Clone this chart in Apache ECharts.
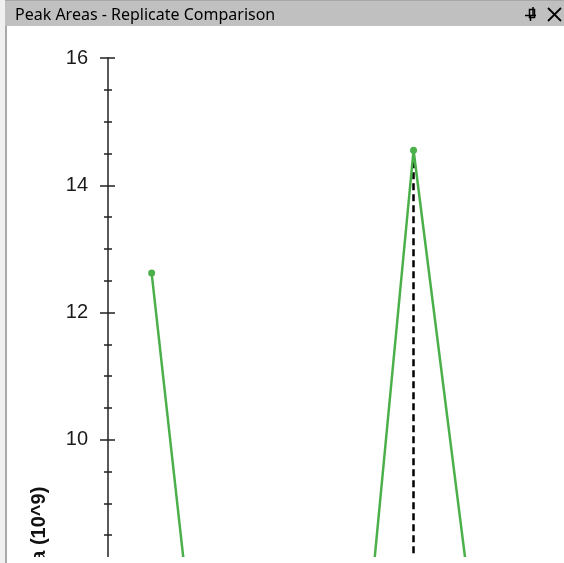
<!DOCTYPE html>
<html>
<head>
<meta charset="utf-8">
<title>Peak Areas - Replicate Comparison</title>
<script src="https://cdn.jsdelivr.net/npm/echarts@6/dist/echarts.min.js"></script>
<style>
  html, body { margin: 0; padding: 0; overflow: hidden; background: #fff; }
  #main { width: 564px; height: 1180px; }
</style>
</head>
<body>
<div id="main"></div>
<script>
// replicate names (x axis, off screen) and peak areas in 10^9
const replicates = ['Rep 1', 'Rep 2', 'Rep 3', 'Rep 4', 'Rep 5'];
const peakAreas = [12.62, 0.28, 0.16, 14.55, 3.7];
const selectedIndex = 3;
const yMin = 0, yMax = 16, yStep = 2;

const chart = echarts.init(document.getElementById('main'));

// same layout for both grids: second one only draws the inner half of the ticks
const gridBox = { left: 108, top: 58, width: 436.5, bottom: 104 };

const option = {
  animation: false,
  title: {
    text: 'Peak Areas - Replicate Comparison',
    left: 10,
    top: 2,
    textStyle: { fontFamily: 'Noto Sans', fontSize: 16, fontWeight: 'normal', color: '#000' }
  },
  grid: [
    Object.assign({}, gridBox),
    Object.assign({}, gridBox)
  ],
  xAxis: [
    {
      type: 'category',
      gridIndex: 0,
      data: replicates,
      axisLine: { lineStyle: { color: '#222', width: 1.5 } },
      axisTick: { show: false },
      axisLabel: { fontFamily: 'Liberation Sans', fontSize: 19, color: '#222' }
    },
    {
      type: 'category',
      gridIndex: 1,
      data: replicates,
      show: false
    }
  ],
  yAxis: [
    {
      type: 'value',
      gridIndex: 0,
      min: yMin,
      max: yMax,
      interval: yStep,
      name: 'Peak Area (10^9)',
      nameLocation: 'middle',
      nameGap: 59,
      nameTextStyle: { fontFamily: 'Liberation Sans', fontSize: 20, fontWeight: 'bold', color: '#111' },
      axisLine: { show: true, lineStyle: { color: '#222', width: 1.5 } },
      axisTick: { show: true, length: 8, lineStyle: { color: '#222', width: 1.5 } },
      minorTick: { show: true, splitNumber: 4, length: 4, lineStyle: { color: '#222', width: 1.5 } },
      axisLabel: { margin: 20, fontFamily: 'Liberation Sans', fontSize: 20, color: '#1a1a1a' },
      splitLine: { show: false }
    },
    {
      type: 'value',
      gridIndex: 1,
      min: yMin,
      max: yMax,
      interval: yStep,
      axisLine: { show: false },
      axisTick: { show: true, inside: true, length: 7, lineStyle: { color: '#222', width: 1.5 } },
      minorTick: { show: true, splitNumber: 4, length: 4, lineStyle: { color: '#222', width: 1.5 } },
      axisLabel: { show: false },
      splitLine: { show: false }
    }
  ],
  series: [
    {
      type: 'line',
      xAxisIndex: 0,
      yAxisIndex: 0,
      data: peakAreas,
      symbol: 'circle',
      symbolSize: 7,
      z: 3,
      lineStyle: { color: '#4cb04a', width: 2.5 },
      itemStyle: { color: '#4cb04a' },
      markLine: {
        silent: true,
        symbol: 'none',
        label: { show: false },
        z: 2,
        lineStyle: { color: '#000', width: 2.5, type: [7, 4] },
        data: [[
          { coord: [selectedIndex, peakAreas[selectedIndex]] },
          { coord: [selectedIndex, yMin] }
        ]]
      }
    }
  ],
  graphic: {
    elements: [
      // window frame on the left
      { type: 'rect', left: 0, top: 0, z: 50, shape: { width: 5, height: 563 }, style: { fill: '#f0f0f0' } },
      { type: 'rect', left: 5, top: 26, z: 50, shape: { width: 2, height: 537 }, style: { fill: '#a9a9a9' } },
      // title bar
      { type: 'rect', left: 5, top: 0, z: -1, shape: { width: 559, height: 26 }, style: { fill: '#c0c0c0' } },
      { type: 'rect', left: 5, top: 0, z: -1, shape: { width: 559, height: 1 }, style: { fill: '#a8a8a8' } },
      // pin icon
      { type: 'rect', left: 527, top: 7, z: 50, shape: { width: 5, height: 8 }, style: { fill: 'none', stroke: '#000', lineWidth: 1.5 } },
      { type: 'line', z: 50, shape: { x1: 533, y1: 7, x2: 533, y2: 15 }, style: { stroke: '#000', lineWidth: 1.5 } },
      { type: 'line', z: 50, shape: { x1: 525, y1: 15.5, x2: 536, y2: 15.5 }, style: { stroke: '#000', lineWidth: 1.5 } },
      { type: 'line', z: 50, shape: { x1: 530.5, y1: 15.5, x2: 530.5, y2: 21 }, style: { stroke: '#000', lineWidth: 1.5 } },
      // close icon
      { type: 'line', z: 50, shape: { x1: 548, y1: 8, x2: 561, y2: 21 }, style: { stroke: '#000', lineWidth: 1.8 } },
      { type: 'line', z: 50, shape: { x1: 561, y1: 8, x2: 548, y2: 21 }, style: { stroke: '#000', lineWidth: 1.8 } },
      // bottom edge of the window
      { type: 'rect', left: 7, top: 557, z: 50, shape: { width: 557, height: 10 }, style: { fill: '#fff' } }
    ]
  }
};

chart.setOption(option);
</script>
</body>
</html>
